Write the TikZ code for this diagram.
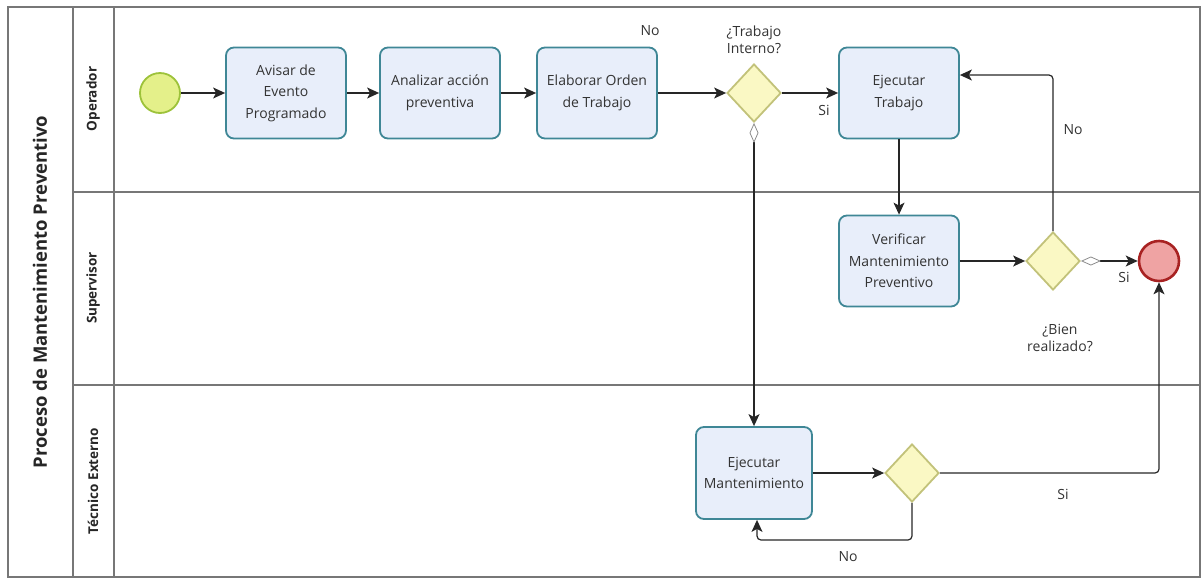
\documentclass[tikz,border=0pt]{standalone}
\usepackage{fontspec}
\setmainfont{Open Sans}
\usetikzlibrary{arrows.meta,shapes.geometric}
\definecolor{taskfill}{HTML}{E8EEFA}
\definecolor{taskline}{HTML}{3F8796}
\definecolor{gwfill}{HTML}{FAF8C4}
\definecolor{gwline}{HTML}{C2C27A}
\definecolor{startfill}{HTML}{E4F08A}
\definecolor{startline}{HTML}{9DC23A}
\definecolor{endfill}{HTML}{EFA3A3}
\definecolor{endline}{HTML}{A82222}
\definecolor{poolline}{HTML}{777777}
\definecolor{txt}{HTML}{333333}
\tikzset{
  task/.style={draw=taskline, fill=taskfill, line width=1.8pt, rounded corners=8pt,
    minimum width=120pt, minimum height=91pt, align=center, text=txt,
    font=\fontsize{14}{21.5}\selectfont, inner sep=2pt},
  gateway/.style={diamond, draw=gwline, fill=gwfill, line width=1.8pt,
    minimum width=54pt, minimum height=58pt, inner sep=0pt},
  startev/.style={circle, draw=startline, fill=startfill, line width=1.8pt, minimum size=40pt, inner sep=0pt},
  endev/.style={circle, draw=endline, fill=endfill, line width=2.6pt, minimum size=40pt, inner sep=0pt},
  flow/.style={draw=black!85, line width=1.2pt, -{Stealth[length=12pt,width=11pt,inset=3pt]}, rounded corners=4pt},
  condflow/.style={draw=black!85, line width=1.2pt,
    {Diamond[length=20pt,width=9pt,color=black!45,fill=white,line width=0.8pt]}-{Stealth[length=12pt,width=11pt,inset=3pt]}},
  lbl/.style={text=txt, font=\fontsize{14}{17}\selectfont, align=center, inner sep=1pt},
  lanelbl/.style={rotate=90, text=black!85, font=\fontsize{13.5}{16}\selectfont\bfseries},
  poolbox/.style={draw=poolline, line width=1.2pt}
}
\begin{document}
\begin{tikzpicture}[x=1pt, y=-1pt]
  \useasboundingbox (0,0) rectangle (1204,579);

  % pool and lanes
  \draw[poolbox] (8,7) rectangle (1200,577);
  \draw[poolbox] (73,7) -- (73,577);
  \draw[poolbox] (114,7) -- (114,577);
  \draw[poolbox] (73,192) -- (1200,192);
  \draw[poolbox] (73,385) -- (1200,385);

  \node[rotate=90, text=black!85, font=\fontsize{18.5}{22}\selectfont\bfseries] (pool) at (40,292) {Proceso de Mantenimiento Preventivo};
  \node[lanelbl] (laneop) at (93,99) {Operador};
  \node[lanelbl] (lanesup) at (93,288) {Supervisor};
  \node[lanelbl] (lanetec) at (93,481) {Técnico Externo};

  % events, tasks and gateways
  \node[startev] (start) at (160,93) {};
  \node[task] (avisar) at (286,93) {Avisar de\\Evento\\Programado};
  \node[task] (analizar) at (440,93) {Analizar acción\\preventiva};
  \node[task] (elaborar) at (597,93) {Elaborar Orden\\de Trabajo};
  \node[gateway] (gwint) at (754,93) {};
  \node[task] (ejtrab) at (899,93) {Ejecutar\\Trabajo};
  \node[task] (verif) at (899,261) {Verificar\\Mantenimiento\\Preventivo};
  \node[gateway] (gwbien) at (1053,261) {};
  \node[endev] (fin) at (1159,261) {};
  \node[task, minimum width=116pt, minimum height=92pt] (ejmant) at (754,473) {Ejecutar\\Mantenimiento};
  \node[gateway] (gwext) at (912,473) {};

  % gateway captions
  \node[lbl] (qint) at (754,40) {¿Trabajo\\Interno?};
  \node[lbl] (qbien) at (1060,338) {¿Bien\\realizado?};

  % bend points
  \coordinate (nobend) at (1053,75);
  \coordinate (loopr) at (912,540);
  \coordinate (loopl) at (757,540);
  \coordinate (sibend) at (1159,473);

  % sequence flows
  \draw[flow] (start) -- (avisar);
  \draw[flow] (avisar) -- (analizar);
  \draw[flow] (analizar) -- (elaborar);
  \draw[flow] (elaborar) -- (gwint);
  \draw[flow] (gwint.east) -- (ejtrab.west);
  \draw[condflow] (gwint.south) -- (ejmant.north);
  \draw[flow] (ejtrab.south) -- (verif.north);
  \draw[flow] (verif.east) -- (gwbien.west);
  \draw[condflow] (gwbien.east) -- (fin.west);
  \draw[flow] (gwbien.north) -- (nobend) -- (ejtrab.east |- nobend);
  \draw[flow] (ejmant.east) -- (gwext.west);
  \draw[flow] (gwext.south) -- (loopr) -- (loopl) -- (loopl |- ejmant.south);
  \draw[flow] (gwext.east) -- (sibend) -- (fin.south);

  % flow labels
  \node[lbl] (lno1) at (650,31) {No};
  \node[lbl] (lsi1) at (824,110) {Si};
  \node[lbl] (lno2) at (1073,130) {No};
  \node[lbl] (lsi2) at (1124,277) {Si};
  \node[lbl] (lsi3) at (1063,494) {Si};
  \node[lbl] (lno3) at (848,557) {No};
\end{tikzpicture}
\end{document}
